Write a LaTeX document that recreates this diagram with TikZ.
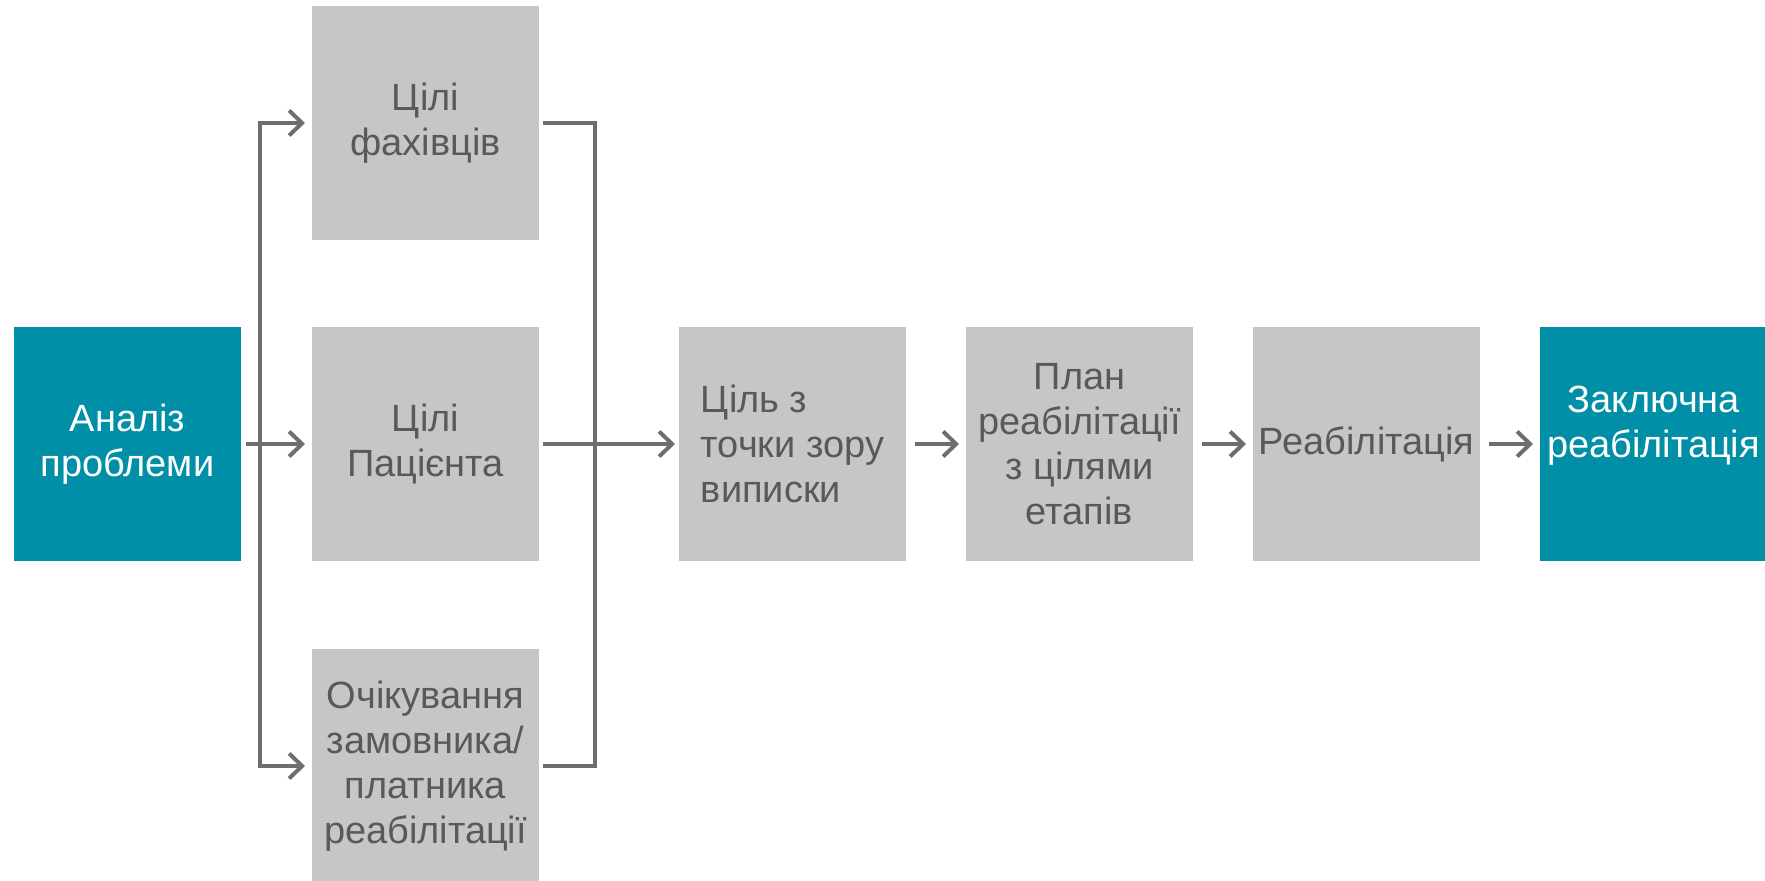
\documentclass[tikz,border=0pt]{standalone}
\usepackage{fontspec}
\setmainfont{Liberation Sans}
\usepackage{tikz}
\usetikzlibrary{arrows.meta}
\definecolor{myteal}{HTML}{008FA6}
\definecolor{mygray}{HTML}{C6C6C6}
\definecolor{myline}{HTML}{6E6E6E}
\definecolor{mytext}{HTML}{595959}
\tikzstyle{box}=[rectangle,fill=mygray,text=mytext,minimum width=4.54cm,minimum height=4.68cm,inner sep=0,outer sep=0,align=center]
\tikzstyle{keybox}=[box,fill=myteal,text=white]
\tikzstyle{conn}=[draw=myline,line width=0.08cm,-{Straight Barb[length=0.26cm,width=0.5cm]}]
\tikzstyle{wire}=[draw=myline,line width=0.08cm]

\begin{document}
\begin{tikzpicture}

      \tikzstyle{every node}=[font=\fontsize{21.6}{25.6}\selectfont]

      \useasboundingbox (0, 0) rectangle (35.3, -17.6);

      \node[keybox] (analysis) at (2.55, -8.88) {Аналіз\\проблеми};

      \node[box] (experts) at (8.51, -2.46) {Цілі\\фахівців};
      \node[box] (patient) at (8.51, -8.88) {Цілі\\Пацієнта};
      \node[box] (customer) at (8.51, -15.32) {Очікування\\замовника/\\платника\\реабілітації};

      \node[box, align=left] (goal) at (15.85, -8.88) {Ціль з\\точки зору\\виписки};
      \node[box] (plan) at (21.59, -8.88) {План\\реабілітації\\з цілями\\етапів};
      \node[box] (rehab) at (27.33, -8.88) {Реабілітація};
      \node[keybox] (final) at (33.07, -8.88) {Заключна\\реабілітація\\ \mbox{}};

      \coordinate (split) at (5.2, -8.88);
      \coordinate (merge) at (11.9, -8.88);

      \draw[conn, shorten <=0.1cm, shorten >=0.14cm] (analysis) -- (patient);
      \draw[conn, shorten >=0.14cm] (split) |- (experts);
      \draw[conn, shorten >=0.14cm] (split) |- (customer);

      \draw[wire, shorten <=0.08cm] (experts) -| (merge);
      \draw[wire, shorten <=0.08cm] (customer) -| (merge);
      \draw[conn, shorten <=0.08cm, shorten >=0.08cm] (patient) -- (goal);

      \draw[conn, shorten <=0.18cm, shorten >=0.14cm] (goal) -- (plan);
      \draw[conn, shorten <=0.18cm, shorten >=0.14cm] (plan) -- (rehab);
      \draw[conn, shorten <=0.18cm, shorten >=0.14cm] (rehab) -- (final);

    \end{tikzpicture}
\end{document}
